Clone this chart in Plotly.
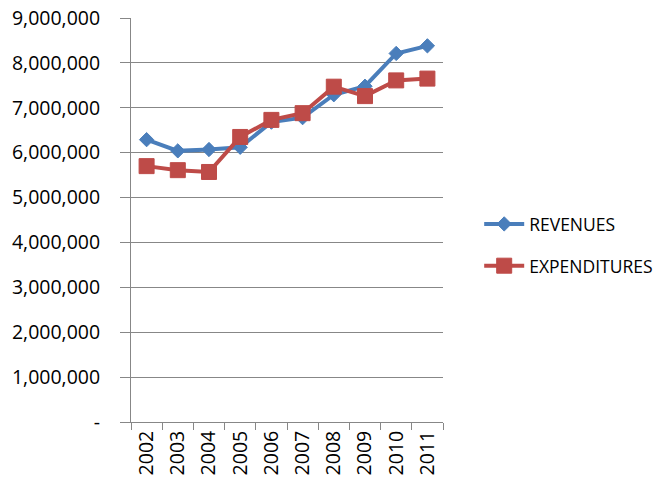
import plotly.graph_objects as go

years = ["2002", "2003", "2004", "2005", "2006", "2007", "2008", "2009", "2010", "2011"]
revenues = [6290000, 6040000, 6070000, 6120000, 6680000, 6780000, 7290000, 7480000, 8210000, 8380000]
expenditures = [5700000, 5610000, 5570000, 6350000, 6730000, 6880000, 7470000, 7260000, 7610000, 7650000]
y_tickvals = [0, 1000000, 2000000, 3000000, 4000000, 5000000, 6000000, 7000000, 8000000, 9000000]
y_ticktext = ["-", "1,000,000", "2,000,000", "3,000,000", "4,000,000", "5,000,000",
              "6,000,000", "7,000,000", "8,000,000", "9,000,000"]

BLUE = "#4A7EBB"
RED = "#BE4B48"
GRID = "#878787"
FONT = "Open Sans"

fig = go.Figure()
fig.add_trace(go.Scatter(
    x=years, y=revenues, name="REVENUES", mode="lines+markers",
    line=dict(color=BLUE, width=4),
    marker=dict(symbol="diamond", size=11, color=BLUE, line=dict(color=BLUE, width=1)),
    legendgroup="a",
))
fig.add_trace(go.Scatter(
    x=years, y=expenditures, name="EXPENDITURES", mode="lines+markers",
    line=dict(color=RED, width=4),
    marker=dict(symbol="square", size=15, color=RED, line=dict(color=RED, width=1)),
    legendgroup="b",
))

fig.update_layout(
    width=666, height=484,
    margin=dict(l=131, r=223, t=17.5, b=61.7, autoexpand=False),
    paper_bgcolor="white", plot_bgcolor="white",
    font=dict(family=FONT, size=19, color="#000000"),
    showlegend=True,
    legend=dict(
        x=1.116, y=0.438, xanchor="left", yanchor="middle",
        font=dict(family=FONT, size=17.5, color="#000000"),
        tracegroupgap=16, itemwidth=40,
        bgcolor="rgba(0,0,0,0)",
    ),
    xaxis=dict(
        type="category", range=[-0.5, 9.5], automargin=False,
        tickson="boundaries", ticks="outside", ticklen=7, tickcolor=GRID, tickwidth=1,
        showline=True, linecolor=GRID, linewidth=1,
        showgrid=False, tickangle=-90,
        tickfont=dict(family=FONT, size=19.5),
        fixedrange=True,
    ),
    yaxis=dict(
        range=[0, 9000000], tickvals=y_tickvals, ticktext=y_ticktext, automargin=False,
        ticks="outside", ticklen=10, tickcolor=GRID, tickwidth=1,
        showline=True, linecolor=GRID, linewidth=1,
        showgrid=True, gridcolor=GRID, gridwidth=1,
        zeroline=False,
        tickfont=dict(family=FONT, size=19.5),
        ticklabelstandoff=16,
        fixedrange=True,
    ),
)

fig.write_html("out.html", config={"displayModeBar": False},
               post_script="document.body.style.margin='0';")
